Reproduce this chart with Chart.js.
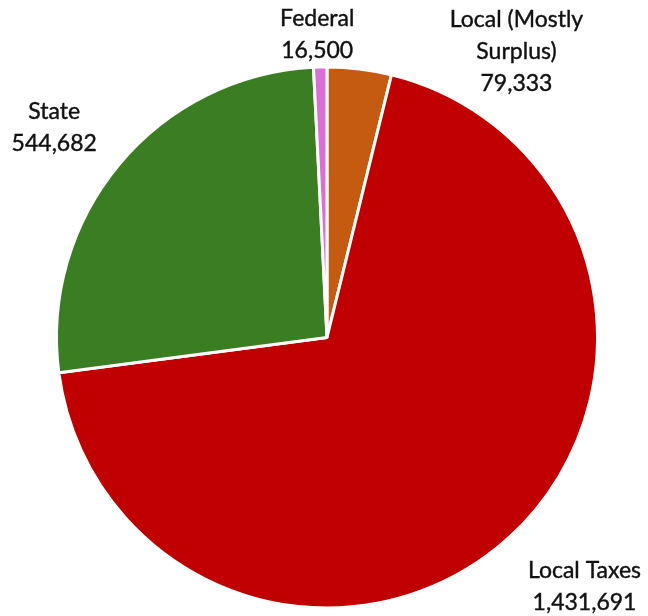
<!DOCTYPE html>
<html lang="en">
  <head>
    <meta charset="UTF-8" />
    <title>Revenue by Source</title>
    <script src="https://cdn.jsdelivr.net/npm/chart.js@4.4.1/dist/chart.umd.min.js"></script>
    <style>
      html, body { margin: 0; padding: 0; background: #fff; }
      #wrap { width: 648px; height: 616px; }
    </style>
  </head>
  <body>
    <div id="wrap"><canvas id="pie-chart"></canvas></div>

    <script>
      // Funding sources, clockwise from 12 o'clock
      const categories = [
        ["Local (Mostly", "Surplus)"],
        ["Local Taxes"],
        ["State"],
        ["Federal"],
      ];
      const amounts = [79333, 1431691, 544682, 16500];
      const sliceColors = ["#C55A11", "#C00000", "#3B7D23", "#DA70D6"];

      // Nudge each label block away from the slice edge (dx, dy)
      const labelNudge = [
        [157, -18],
        [77, 47],
        [-65, -37],
        [-3, -33],
      ];

      const LINE_H = 32;
      const FONT = "23px Lato, 'Open Sans', sans-serif";

      // Draws "name / value" blocks outside each slice
      const outsideLabels = {
        id: "outsideLabels",
        afterDatasetsDraw(chart) {
          const ctx = chart.ctx;
          const meta = chart.getDatasetMeta(0);
          ctx.save();
          ctx.font = FONT;
          ctx.fillStyle = "#111111";
          ctx.strokeStyle = "#111111";
          ctx.lineWidth = 0.4;
          ctx.textAlign = "center";
          ctx.textBaseline = "alphabetic";
          meta.data.forEach((arc, i) => {
            const p = arc.getProps(["x", "y", "startAngle", "endAngle", "outerRadius"], true);
            const mid = (p.startAngle + p.endAngle) / 2;
            const ax = p.x + Math.cos(mid) * p.outerRadius + labelNudge[i][0];
            const ay = p.y + Math.sin(mid) * p.outerRadius + labelNudge[i][1];
            const lines = categories[i].concat([amounts[i].toLocaleString("en-US")]);
            const top = ay - ((lines.length - 1) * LINE_H) / 2;
            lines.forEach((t, k) => {
              ctx.fillText(t, ax, top + k * LINE_H + 8);
              ctx.strokeText(t, ax, top + k * LINE_H + 8);
            });
          });
          ctx.restore();
        },
      };

      new Chart(document.getElementById("pie-chart"), {
        type: "pie",
        data: {
          labels: categories.map((c) => c.join(" ")),
          datasets: [
            {
              data: amounts,
              backgroundColor: sliceColors,
              borderColor: "#ffffff",
              borderWidth: 3,
            },
          ],
        },
        options: {
          responsive: true,
          maintainAspectRatio: false,
          animation: false,
          layout: {
            padding: { left: 55, right: 49, top: 65, bottom: 6 },
          },
          plugins: {
            legend: { display: false },
            tooltip: { enabled: false },
          },
        },
        plugins: [outsideLabels],
      });
    </script>
  </body>
</html>
